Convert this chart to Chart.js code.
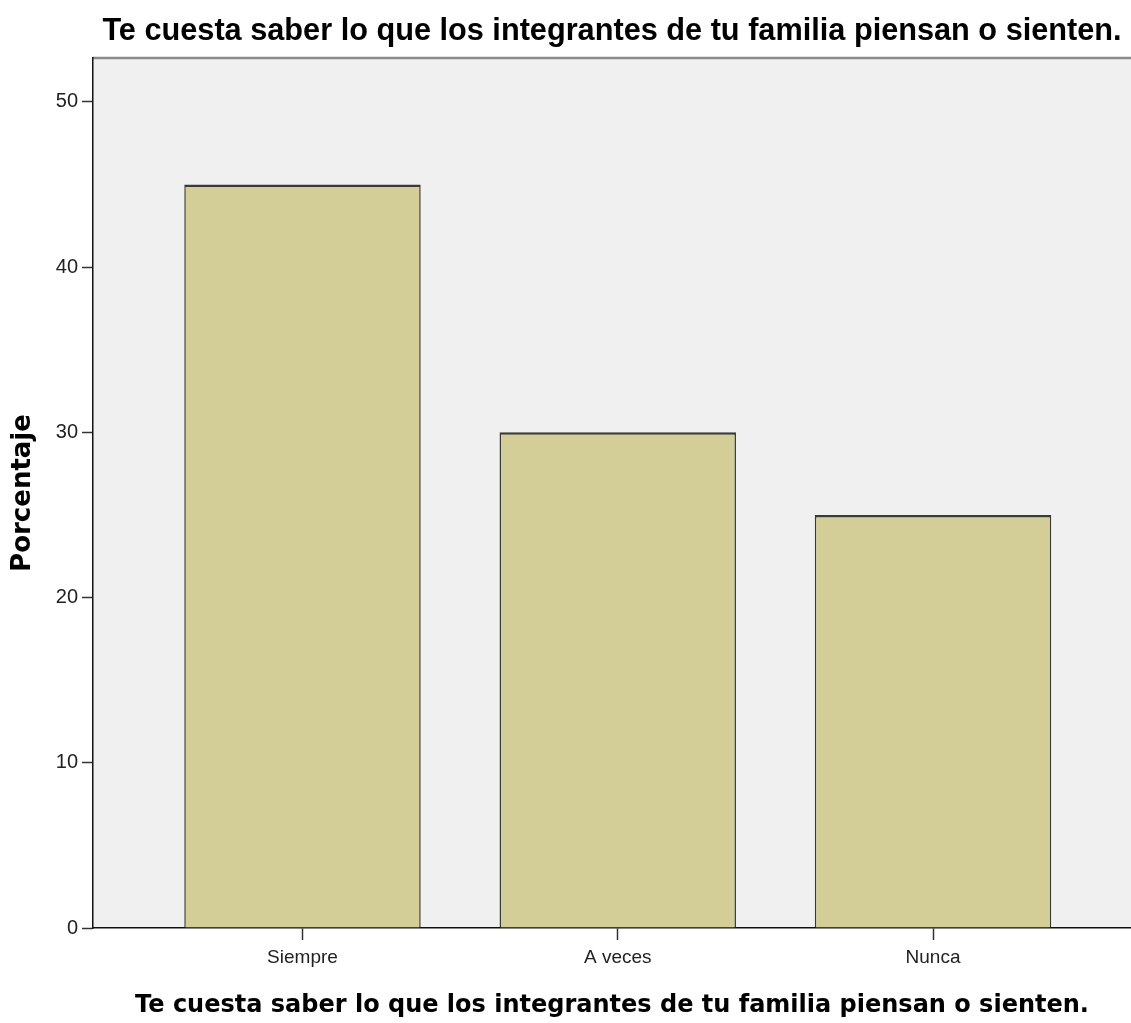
<!DOCTYPE html>
<html>
<head>
<meta charset="utf-8">
<script src="https://cdn.jsdelivr.net/npm/chart.js@4/dist/chart.umd.min.js"></script>
<style>
html,body{margin:0;padding:0;background:#fff;}
#wrap{width:1131px;height:1023px;position:relative;}
</style>
</head>
<body>
<div id="wrap"><canvas id="c"></canvas></div>
<script>
// ---- data ----
const categories = ["Siempre", "A veces", "Nunca"];
const percentages = [45, 30, 25];
const yTicks = [0, 10, 20, 30, 40, 50];
const chartTitle = "Te cuesta saber lo que los integrantes de tu familia piensan o sienten.";
const xTitle = "Te cuesta saber lo que los integrantes de tu familia piensan o sienten.";
const yTitle = "Porcentaje";
const yMax = 52.66;
const xMin = -0.6645;
const xMax = 2.628;

const points = percentages.map((v, i) => ({x: i, y: v}));

const plotBg = {
  id: 'plotBg',
  beforeDraw(chart) {
    const {ctx, chartArea: a} = chart;
    ctx.save();
    ctx.fillStyle = '#F0F0F0';
    ctx.fillRect(a.left, a.top, a.right - a.left, a.bottom - a.top);
    ctx.strokeStyle = '#8a8a8a';
    ctx.lineWidth = 2.5;
    ctx.beginPath();
    ctx.moveTo(a.left, a.top);
    ctx.lineTo(a.right, a.top);
    ctx.stroke();
    ctx.restore();
  }
};

new Chart(document.getElementById('c'), {
  type: 'bar',
  data: {
    datasets: [{
      data: points,
      backgroundColor: '#D3CE97',
      borderColor: '#3a3a34',
      borderWidth: {top: 2.5, left: 1.5, right: 1.5, bottom: 0},
      borderSkipped: false,
      categoryPercentage: 1,
      barPercentage: 0.75
    }]
  },
  options: {
    responsive: true,
    maintainAspectRatio: false,
    animation: false,
    layout: {padding: 0},
    plugins: {
      legend: {display: false},
      tooltip: {enabled: false},
      title: {
        display: true,
        text: chartTitle,
        fullSize: false,
        color: '#000',
        font: {family: 'Liberation Sans, Arial, sans-serif', size: 30.7, weight: 'bold', lineHeight: 1},
        padding: {top: 16, bottom: 11.3}
      }
    },
    scales: {
      x: {
        type: 'linear',
        min: xMin,
        max: xMax,
        offset: false,
        afterFit(s) { s.height = 95; },
        afterBuildTicks(s) { s.ticks = categories.map((c, i) => ({value: i})); },
        ticks: {
          callback: (v) => categories[v],
          color: '#222',
          font: {family: 'Liberation Sans, Arial, sans-serif', size: 19},
          padding: 6,
          maxRotation: 0,
          autoSkip: false
        },
        grid: {offset: false, drawOnChartArea: false, drawTicks: true, tickLength: 12, tickColor: '#333', tickWidth: 1.5},
        border: {display: true, color: '#111', width: 1.5},
        title: {
          display: true,
          text: xTitle,
          color: '#000',
          font: {family: 'DejaVu Sans, Verdana, sans-serif', size: 24, weight: 'bold', lineHeight: 1},
          padding: {top: 0, bottom: 5}
        }
      },
      y: {
        min: 0,
        max: yMax,
        afterFit(s) { s.width = 93; },
        afterBuildTicks(s) { s.ticks = yTicks.map(v => ({value: v})); },
        ticks: {
          color: '#222',
          font: {family: 'Liberation Sans, Arial, sans-serif', size: 20},
          padding: 4
        },
        grid: {offset: false, drawOnChartArea: false, drawTicks: true, tickLength: 11, tickColor: '#333', tickWidth: 1.5},
        border: {display: true, color: '#111', width: 1.5},
        title: {
          display: true,
          text: yTitle,
          color: '#000',
          font: {family: 'DejaVu Sans, Verdana, sans-serif', size: 26, weight: 'bold', lineHeight: 1},
          padding: {top: 10, bottom: 0}
        }
      }
    }
  },
  plugins: [plotBg]
});
</script>
</body>
</html>
